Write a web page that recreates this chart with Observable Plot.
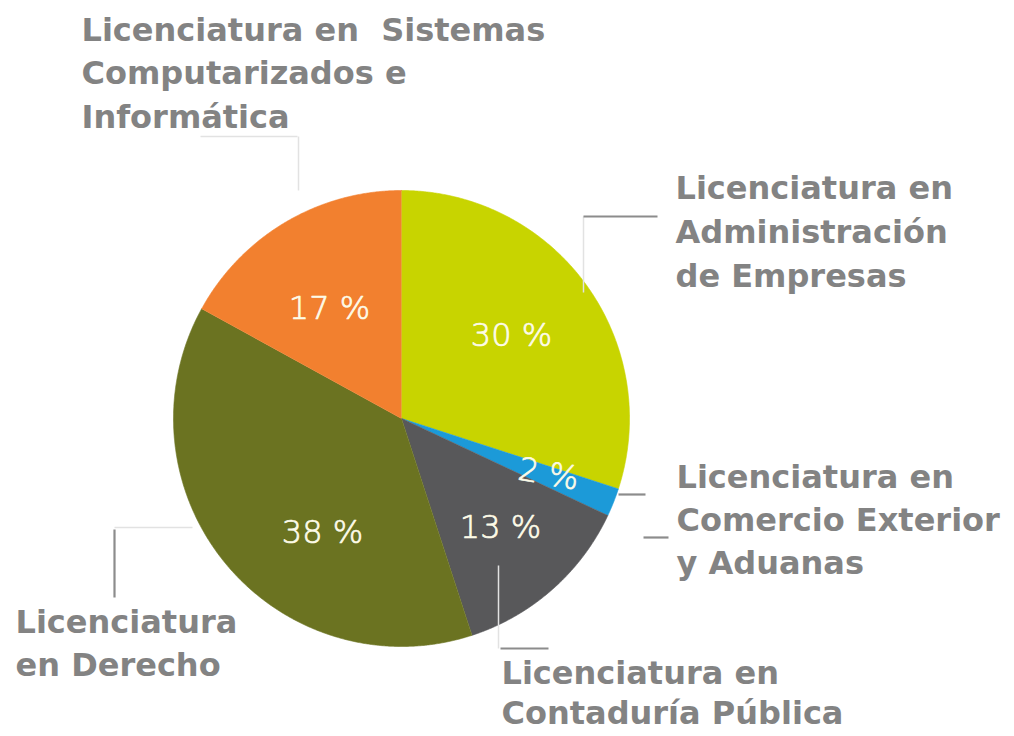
<!DOCTYPE html>
<html><head><meta charset="utf-8">
<script src="https://cdn.jsdelivr.net/npm/d3@7"></script>
<script src="https://cdn.jsdelivr.net/npm/@observablehq/plot@0.6"></script>
<style>html,body{margin:0;padding:0;background:#fff;} #chart svg{display:block;background:#fff}</style>
</head><body><div id="chart"></div>
<script>
// ---- data ----
const categories = [
  "Licenciatura en Administración de Empresas",
  "Licenciatura en Comercio Exterior y Aduanas",
  "Licenciatura en Contaduría Pública",
  "Licenciatura en Derecho",
  "Licenciatura en Sistemas Computarizados e Informática"
];
const categoryLines = [
  ["Licenciatura en", "Administración", "de Empresas"],
  ["Licenciatura en", "Comercio Exterior", "y Aduanas"],
  ["Licenciatura en", "Contaduría Pública"],
  ["Licenciatura", "en Derecho"],
  ["Licenciatura en\u00a0 Sistemas", "Computarizados e", "Informática"]
];
const values = [30, 2, 13, 38, 17];
const valueLabels = ["30 %", "2 %", "13 %", "38 %", "17 %"];
const colors = ["#c8d400", "#1c9ad8", "#58585a", "#6b7321", "#f2802f"];

// ---- layout (pixels) ----
const W = 1014, H = 736;
const CX = 401, CY = 418, R = 228;
const catLayout = [
  {x: 675, baselines: [198, 242, 286]},
  {x: 676, baselines: [487, 530, 573]},
  {x: 501, baselines: [683, 723]},
  {x: 15,  baselines: [632, 675]},
  {x: 81,  baselines: [40, 83, 127]}
];
const valueLayout = [
  {x: 511, y: 335, rotate: 0},
  {x: 548, y: 474, rotate: 10},
  {x: 500, y: 527, rotate: 0},
  {x: 322, y: 532, rotate: 0},
  {x: 329, y: 308, rotate: 0}
];
const leadersStrong = [
  {x1: 583, y1: 216, x2: 657, y2: 216},
  {x1: 618, y1: 494, x2: 645, y2: 494},
  {x1: 643, y1: 537, x2: 668, y2: 537},
  {x1: 114, y1: 529, x2: 114, y2: 597},
  {x1: 500, y1: 648, x2: 548, y2: 648}
];
const leadersFaint = [
  {x1: 200, y1: 136, x2: 297, y2: 136},
  {x1: 298, y1: 136, x2: 298, y2: 190},
  {x1: 583, y1: 216, x2: 583, y2: 292},
  {x1: 114, y1: 527, x2: 192, y2: 527},
  {x1: 498, y1: 565, x2: 498, y2: 648}
];

// ---- pie geometry from values ----
const arcs = d3.pie().sort(null).value(d => d)(values);
const slicePolys = arcs.map((a, i) => {
  const pts = [{x: CX, y: CY}];
  const n = Math.max(2, Math.ceil((a.endAngle - a.startAngle) / 0.005));
  for (let k = 0; k <= n; k++) {
    const t = a.startAngle + (a.endAngle - a.startAngle) * k / n;
    pts.push({x: CX + R * Math.sin(t), y: CY - R * Math.cos(t)});
  }
  return pts;
});

const catRows = [];
categoryLines.forEach((lines, i) => lines.forEach((t, j) =>
  catRows.push({text: t, x: catLayout[i].x, y: catLayout[i].baselines[j], cat: categories[i]})));
const valRows = values.map((v, i) => ({text: valueLabels[i], ...valueLayout[i]}));

const plot = Plot.plot({
  width: W, height: H, margin: 0,
  x: {domain: [0, W], range: [0, W], axis: null},
  y: {domain: [0, H], range: [0, H], axis: null},
  style: {background: "#fff"},
  marks: [
    ...slicePolys.map((pts, i) => Plot.line(pts, {x: "x", y: "y", fill: colors[i], stroke: colors[i], strokeWidth: 0.6})),
    Plot.link(leadersFaint, {x1: "x1", y1: "y1", x2: "x2", y2: "y2", stroke: "#e2e2e2", strokeWidth: 1.5}),
    Plot.link(leadersStrong, {x1: "x1", y1: "y1", x2: "x2", y2: "y2", stroke: "#8c8c8c", strokeWidth: 2.2}),
    Plot.text(catRows, {x: "x", y: "y", text: "text", textAnchor: "start", lineAnchor: "bottom",
      fontSize: 32, fontFamily: "DejaVu Sans", fontWeight: "bold", fill: "#838383"}),
    Plot.text(valRows, {x: "x", y: "y", text: "text", rotate: "rotate", textAnchor: "middle", lineAnchor: "middle",
      fontSize: 32, fontFamily: "DejaVu Sans", fontWeight: 200, fill: "#fdfbe8", stroke: "#fdfbe8", strokeWidth: 0.7})
  ]
});
document.getElementById("chart").appendChild(plot);
</script>
</body></html>
